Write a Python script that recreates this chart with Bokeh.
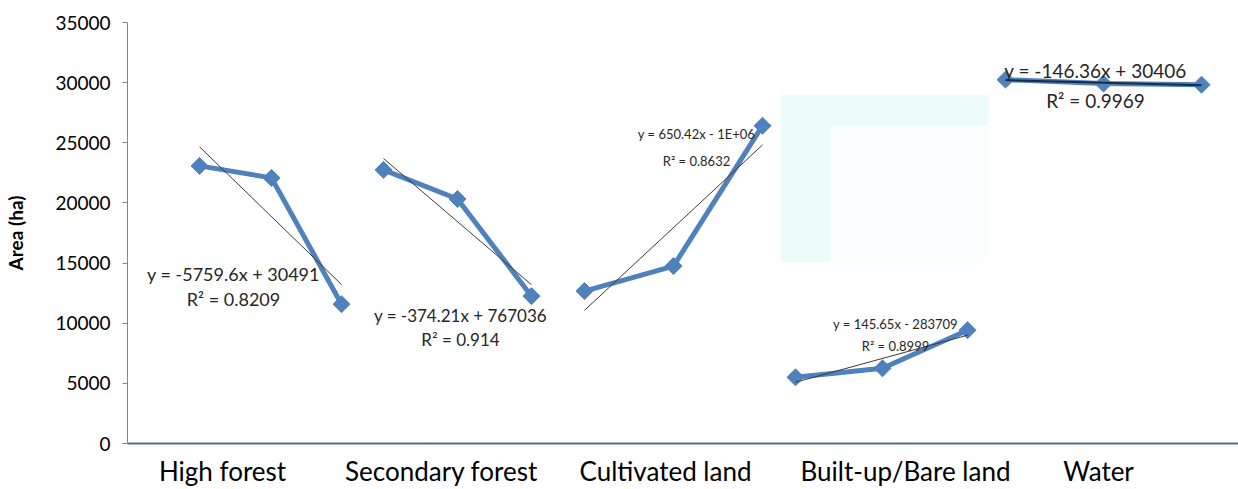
import numpy as np
from bokeh.plotting import figure
from bokeh.models import Range1d, FixedTicker
from bokeh.core.properties import value
from bokeh.embed import file_html
from bokeh.resources import INLINE

# ---------------- data ----------------
categories = ["High forest", "Secondary forest", "Cultivated land", "Built-up/Bare land", "Water"]
category_centers = [222, 441, 665, 905, 1098]

# horizontal positions of the three observations of each class (axis units)
hf_x = [199, 271, 341]
sf_x = [383, 457, 531]
cl_x = [584, 673, 762]
bu_x = [795, 882, 967]
wa_x = [1005, 1103, 1201]

# areas (ha)
hf_y = [23080, 22080, 11580]
sf_y = [22750, 20330, 12250]
cl_y = [12670, 14750, 26420]
bu_y = [5500, 6250, 9420]
wa_y = [30250, 29920, 29830]

eq_line1 = ["y = -5759.6x + 30491", "y = -374.21x + 767036", "y = 650.42x - 1E+06",
            "y = 145.65x - 283709", "y = -146.36x + 30406"]
eq_line2 = ["R² = 0.8209", "R² = 0.914", "R² = 0.8632", "R² = 0.8999", "R² = 0.9969"]

y_ticks = [0, 5000, 10000, 15000, 20000, 25000, 30000, 35000]

# ---------------- figure ----------------
FONT = "Lato"
p = figure(width=1238, height=489, x_range=Range1d(127, 1238), y_range=Range1d(0, 35000),
           output_backend="svg", toolbar_location=None,
           min_border_left=127, min_border_right=0, min_border_top=22, min_border_bottom=46)
p.outline_line_color = None
p.xgrid.grid_line_color = None
p.ygrid.grid_line_color = None
p.background_fill_color = "white"
p.border_fill_color = "white"

# faint pasted-image artefact behind the built-up group
p.quad(left=[780], right=[988], bottom=[15060], top=[28950], fill_color="#edfbfb", line_color=None)
p.quad(left=[830], right=[988], bottom=[15060], top=[26400], fill_color="#fbfefe", line_color=None)

# y axis
ya = p.yaxis[0]
ya.ticker = FixedTicker(ticks=y_ticks)
ya.axis_line_color = "#868686"
ya.major_tick_line_color = "#868686"
ya.major_tick_out = 5
ya.major_tick_in = 0
ya.minor_tick_line_color = None
ya.major_label_standoff = 12
ya.major_label_text_font = FONT
ya.major_label_text_font_size = "19px"
ya.major_label_text_color = "#000000"
ya.axis_label = "Area (ha)"
ya.axis_label_text_font = FONT
ya.axis_label_text_font_style = "bold"
ya.axis_label_text_font_size = "19px"
ya.axis_label_text_color = "#000000"
ya.axis_label_standoff = 25

# x axis
xa = p.xaxis[0]
xa.ticker = FixedTicker(ticks=category_centers)
xa.major_label_overrides = {c: n for c, n in zip(category_centers, categories)}
xa.axis_line_color = "#4a6b9a"
xa.axis_line_width = 2
xa.major_tick_line_color = None
xa.major_tick_out = 0
xa.major_tick_in = 0
xa.minor_tick_line_color = None
xa.major_label_standoff = 11
xa.major_label_text_font = FONT
xa.major_label_text_font_size = "26px"
xa.major_label_text_color = "#000000"

BLUE = "#4f81bd"
groups = [(hf_x, hf_y), (sf_x, sf_y), (cl_x, cl_y), (bu_x, bu_y), (wa_x, wa_y)]

for gx, gy in groups:
    p.line(gx, gy, line_color=BLUE, line_width=5, line_join="round")
    p.scatter(gx, gy, marker="square", size=12, angle=np.pi / 4,
              fill_color=BLUE, line_color=BLUE)

# linear trend lines (least squares on each group)
for i, (gx, gy) in enumerate(groups):
    k, b = np.polyfit(gx, gy, 1)
    tx = [gx[0], gx[-1]]
    ty = [k * gx[0] + b, k * gx[-1] + b]
    if i == 4:
        p.line(tx, ty, line_color="#1c2a44", line_width=2)
    else:
        p.line(tx, ty, line_color="#3a3a3a", line_width=1)

# equation labels
lab_x = [233, 460, 696, 895, 1095]
lab_y1 = [14130, 10640, 25770, 9975, 31000]
lab_y2 = [12050, 8645, 23525, 8146, 28510]
lab_size = ["18px", "17px", "13px", "13px", "19px"]

for i in range(5):
    p.text(x=[lab_x[i]], y=[lab_y1[i]], text=[eq_line1[i]], text_font=value(FONT),
           text_font_size=value(lab_size[i]), text_color="#262626",
           text_align="center", text_baseline="middle")
    p.text(x=[lab_x[i]], y=[lab_y2[i]], text=[eq_line2[i]], text_font=value(FONT),
           text_font_size=value(lab_size[i]), text_color="#262626",
           text_align="center", text_baseline="middle")

open("out.html", "w").write(file_html(p, INLINE))
